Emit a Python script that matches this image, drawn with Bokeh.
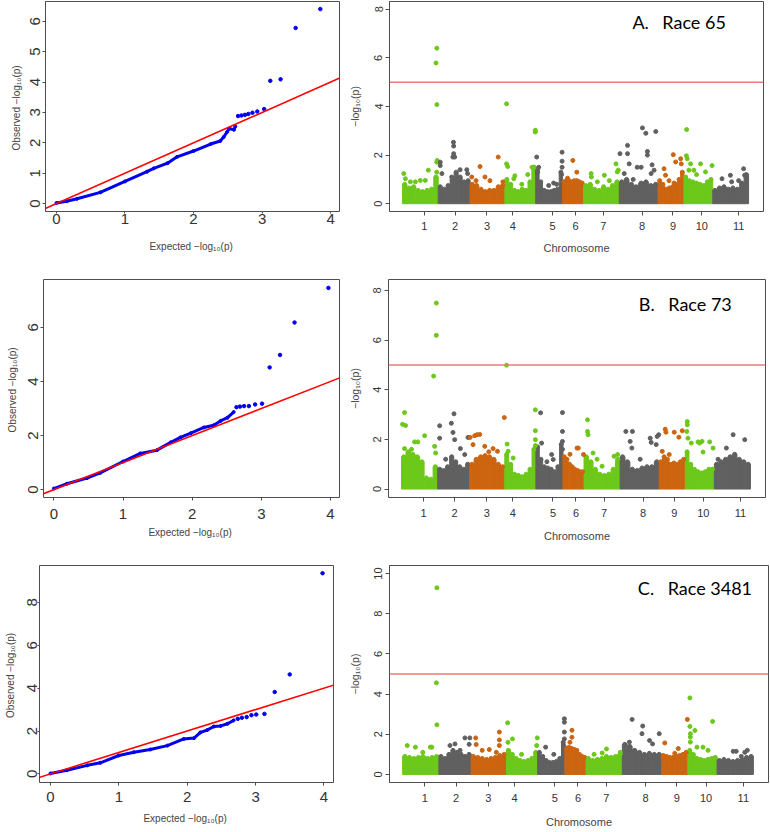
import numpy as np
from bokeh.plotting import figure
from bokeh.layouts import column, row
from bokeh.models import Range1d, FixedTicker, Slope, Span, Label
from bokeh.embed import file_html
from bokeh.resources import INLINE

# ---------------- data ----------------
chrom_names = ["1", "2", "3", "4", "5", "6", "7", "8", "9", "10", "11"]
chrom_len = [36, 32, 35, 31, 27, 21, 36, 39, 26, 29, 36]
chrom_tick = [22, 53, 85, 111, 151, 174, 202, 241, 272, 301, 338]

# QQ plots: dense part (expected, observed) and sparse tail
qa_exp = [0.0, 0.15, 0.3, 0.64, 1.0, 1.32, 1.42, 1.62, 1.76, 2.0, 2.25, 2.39, 2.44, 2.49, 2.52, 2.59, 2.61]
qa_obs = [0.02, 0.08, 0.16, 0.37, 0.73, 1.05, 1.16, 1.33, 1.54, 1.73, 1.96, 2.06, 2.19, 2.36, 2.47, 2.43, 2.54]
qa_exp_tail = [2.65, 2.70, 2.75, 2.80, 2.86, 2.93, 3.03, 3.12, 3.27, 3.49, 3.85]
qa_obs_tail = [2.88, 2.90, 2.92, 2.95, 2.99, 3.03, 3.11, 4.04, 4.09, 5.78, 6.40]

qb_exp = [0.0, 0.19, 0.48, 0.67, 1.0, 1.25, 1.49, 1.69, 1.83, 1.98, 2.17, 2.31, 2.41, 2.51, 2.60]
qb_obs = [0.04, 0.22, 0.43, 0.62, 1.04, 1.34, 1.46, 1.75, 1.93, 2.09, 2.30, 2.38, 2.54, 2.66, 2.87]
qb_exp_tail = [2.64, 2.69, 2.75, 2.82, 2.91, 3.01, 3.12, 3.27, 3.48, 3.97]
qb_obs_tail = [3.05, 3.07, 3.09, 3.09, 3.15, 3.18, 4.52, 4.98, 6.18, 7.46]

qc_exp = [0.0, 0.24, 0.54, 0.73, 1.0, 1.22, 1.46, 1.71, 1.95, 2.1, 2.19, 2.29, 2.39, 2.49, 2.59, 2.68]
qc_obs = [0.02, 0.17, 0.40, 0.52, 0.86, 1.01, 1.14, 1.32, 1.63, 1.67, 1.93, 2.04, 2.21, 2.24, 2.34, 2.50]
qc_exp_tail = [2.74, 2.80, 2.87, 2.94, 3.01, 3.13, 3.28, 3.50, 3.98]
qc_obs_tail = [2.57, 2.62, 2.65, 2.74, 2.77, 2.80, 3.82, 4.64, 9.36]

# Manhattan plots: dense band profile per chromosome (-log10 p of the dense SNP mass)
a_band = [
    [0.8, 0.65, 0.7, 0.55, 0.5, 0.55, 0.6, 1.1],
    [0.7, 0.6, 0.75, 1.0, 1.3, 1.1, 0.9, 0.95],
    [0.8, 0.75, 0.6, 0.5, 0.55, 0.55, 0.7, 0.75],
    [1.0, 0.8, 0.55, 0.5, 0.6, 0.55, 0.9, 1.5],
    [1.4, 0.9, 0.55, 0.5, 0.5, 0.55, 0.6, 1.3],
    [0.9, 0.95, 0.95, 0.9, 0.95, 0.95, 0.9, 0.85],
    [0.75, 0.8, 0.6, 0.55, 0.7, 0.6, 0.75, 0.9],
    [0.9, 1.0, 0.8, 0.7, 0.85, 0.9, 0.75, 0.8],
    [0.95, 0.8, 0.6, 0.65, 0.7, 0.8, 1.0, 1.3],
    [1.1, 0.95, 0.9, 0.85, 0.8, 0.75, 0.9, 1.0],
    [0.55, 0.65, 0.7, 0.6, 0.65, 0.6, 0.85, 1.2],
]
# individual SNPs above the band (cumulative position, -log10 p), per chromosome
a_pos = [
    [1.3, 3, 8, 13, 18, 23, 26, 34.5, 34.5, 35, 33.7, 34.6, 34.6],
    [38, 38, 39.7, 51.3, 51.5, 51.5, 52.5, 58, 64.7, 65.5, 49.5, 50.7],
    [69.7, 78, 83, 96.3, 101, 88, 74],
    [104.7, 104.7, 105.8, 112, 130.3, 132.5, 133.6, 133.6, 120, 126, 113],
    [135, 137, 136, 147, 152, 160.5, 160.5, 160.5, 160, 155],
    [171.3, 175.3, 166],
    [189.7, 190, 196, 203, 214.7, 216, 217, 208],
    [218.7, 226.3, 226.3, 228, 223, 241.3, 244.7, 254.7, 246.3, 246.3, 236, 240, 251, 253, 250, 232],
    [263, 264.5, 272.3, 274.7, 279.7, 280.3, 268, 273],
    [285.7, 285.5, 286.3, 289.7, 288, 293, 299.7, 304.7, 311.3, 295.7],
    [321.3, 329.7, 331, 343, 344, 338],
]
a_val = [
    [1.24, 1.03, 0.9, 0.9, 0.96, 0.96, 1.38, 1.3, 1.71, 1.78, 5.79, 6.40, 4.08],
    [1.71, 1.57, 1.24, 2.53, 2.37, 2.06, 1.92, 1.4, 1.4, 1.24, 1.1, 1.92],
    [1.1, 1.53, 1.1, 1.92, 0.9, 0.95, 0.95],
    [4.11, 1.64, 1.53, 1.03, 1.5, 1.5, 2.95, 3.02, 0.8, 1.2, 1.15],
    [1.92, 1.5, 1.3, 0.75, 0.85, 2.12, 1.75, 1.5, 1.2, 0.8],
    [1.78, 1.3, 1.05],
    [1.24, 1.1, 0.9, 1.17, 1.64, 1.31, 1.38, 0.95],
    [2.06, 2.4, 2.06, 1.64, 1.24, 3.12, 2.9, 2.97, 2.15, 2.0, 1.5, 1.5, 1.6, 1.38, 1.24, 1.0],
    [1.44, 1.17, 2.02, 1.72, 1.85, 1.64, 0.95, 0.85],
    [3.05, 1.97, 1.85, 1.64, 1.38, 1.38, 1.64, 1.31, 1.57, 1.2],
    [1.03, 1.17, 0.9, 1.44, 1.17, 0.95],
]

b_band = [
    [1.3, 1.5, 1.4, 1.3, 1.1, 0.45, 0.4, 0.9],
    [0.8, 0.75, 0.9, 1.3, 1.1, 0.9, 0.8, 1.0],
    [1.0, 1.2, 1.3, 1.35, 1.3, 1.2, 1.0, 0.9],
    [1.4, 1.0, 0.6, 0.55, 0.5, 0.6, 0.8, 1.6],
    [1.7, 1.2, 0.9, 0.85, 0.8, 0.7, 0.9, 1.8],
    [1.3, 1.2, 1.0, 0.9, 0.8, 0.75, 0.7, 0.7],
    [1.3, 1.1, 0.8, 0.6, 0.55, 0.6, 0.8, 1.2],
    [1.3, 1.1, 0.8, 0.75, 0.85, 0.9, 0.9, 1.1],
    [1.1, 1.3, 1.2, 1.0, 1.05, 1.0, 1.1, 1.2],
    [1.5, 1.0, 0.8, 0.7, 0.65, 0.7, 0.8, 0.8],
    [1.0, 1.1, 1.2, 1.3, 1.4, 1.2, 1.1, 1.0],
]
b_pos = [
    [34.7, 34.7, 32, 3, 1, 4, 13, 16.3, 23, 3, 33, 34, 10],
    [38, 38, 49.7, 52.3, 51.3, 53, 58.7, 66.3, 63, 44],
    [68.5, 73, 75.3, 78, 71.3, 83, 91.3, 95.7, 102.5, 87],
    [104.7, 105.3, 106.3, 111.3, 133.5, 133.5, 133.5, 133.5],
    [138.7, 139.7, 149.7, 151.3, 160.5, 160.5, 160.5, 160.5, 145],
    [175, 176.3, 181.5, 168, 164],
    [185.5, 185.5, 186, 191, 212, 215.5, 200, 195],
    [223.7, 230.3, 228, 229.7, 248, 249, 255, 256.5, 254, 238],
    [263, 263.7, 272, 276.6, 280, 260, 267],
    [285, 285, 284.5, 285.7, 295.7, 297.3, 299.7, 289, 307.3, 300.7, 310.7],
    [330.7, 342.3, 324, 315.7],
]
b_val = [
    [7.49, 6.19, 4.55, 3.08, 2.61, 2.56, 1.9, 1.9, 2.15, 1.63, 1.72, 1.45, 1.6],
    [2.55, 2.05, 2.65, 3.03, 2.28, 1.99, 1.63, 2.08, 1.39, 1.2],
    [2.08, 2.15, 2.19, 2.2, 1.79, 1.72, 1.63, 1.52, 2.88, 1.5],
    [4.99, 1.81, 1.52, 1.25, 3.19, 2.35, 1.99, 1.75],
    [3.07, 1.85, 1.39, 1.19, 3.08, 2.32, 1.92, 1.6, 1.1],
    [1.65, 1.65, 1.39, 1.4, 1.2],
    [2.79, 2.32, 2.19, 1.45, 1.32, 1.39, 0.92, 1.2],
    [2.32, 2.32, 1.92, 1.65, 2.05, 1.88, 2.12, 2.19, 1.79, 1.2],
    [2.41, 2.29, 2.29, 2.09, 2.35, 1.52, 1.39],
    [2.72, 2.59, 2.32, 2.05, 1.9, 1.85, 1.92, 1.85, 1.9, 1.49, 1.65],
    [2.19, 1.99, 1.65, 1.2],
]

c_band = [
    [0.9, 0.85, 0.8, 0.85, 0.9, 0.8, 0.85, 0.9],
    [0.9, 0.8, 1.0, 1.2, 1.1, 1.0, 0.9, 1.0],
    [0.9, 0.85, 0.8, 0.75, 0.8, 0.85, 0.95, 1.0],
    [1.2, 1.0, 0.8, 0.7, 0.65, 0.7, 0.8, 1.1],
    [1.1, 0.9, 0.7, 0.6, 0.6, 0.65, 0.8, 1.6],
    [1.3, 1.35, 1.3, 1.25, 1.2, 1.0, 0.9, 0.85],
    [0.8, 0.7, 0.75, 0.8, 0.9, 0.85, 0.9, 1.0],
    [1.5, 1.4, 1.2, 1.1, 1.0, 1.05, 1.0, 1.0],
    [0.95, 0.9, 0.85, 0.85, 0.9, 0.95, 1.0, 1.1],
    [1.2, 1.0, 0.8, 0.75, 0.7, 0.75, 0.8, 0.85],
    [0.7, 0.75, 0.7, 0.65, 0.7, 0.75, 0.85, 0.9],
]
c_pos = [
    [34, 33.5, 34, 4.6, 12.7, 27.5, 29, 20],
    [47, 52, 61.8, 66.7, 57, 66],
    [72.5, 73, 79, 86, 96, 96, 96, 93],
    [104.2, 104.5, 109, 118, 133.6, 133],
    [141.9, 150, 160.5, 160.5, 160.5, 160.5, 159.5],
    [168, 168, 166],
    [202.3, 198, 216, 190],
    [227.7, 238.2, 237.5, 254.6, 245, 248, 225],
    [260.1, 273.5, 282.5, 270],
    [285, 285, 290, 285.5, 285.5, 285.5, 307.5, 292, 298, 303],
    [328, 331, 339.5, 342, 336],
]
c_val = [
    [9.29, 4.56, 2.47, 1.44, 1.36, 1.36, 1.36, 1.1],
    [1.44, 1.52, 1.82, 1.82, 1.2, 1.5],
    [1.82, 1.49, 1.2, 1.24, 2.11, 1.72, 1.44, 1.1],
    [2.57, 1.6, 1.77, 1.0, 1.82, 1.44],
    [1.36, 1.0, 2.77, 2.6, 2.11, 1.77, 1.45],
    [2.2, 1.85, 1.6],
    [1.27, 1.07, 1.1, 1.0],
    [2.74, 2.41, 2.03, 2.03, 1.69, 1.52, 1.61],
    [1.57, 1.29, 2.74, 1.05],
    [3.81, 2.39, 2.19, 2.03, 1.86, 1.61, 2.64, 1.36, 1.36, 1.2],
    [1.15, 1.15, 1.1, 1.2, 0.9],
]

threshold = 5
race_labels = ["A.\u2003Race 65", "B.\u2003Race 73", "C.\u2003Race 3481"]

# ---------------- style ----------------
FRAME = "#4d4d4d"
TXT = "#333333"
NARROW = "Liberation Sans Narrow, Arial Narrow, Liberation Sans"
REG = "Liberation Sans"
CHR_COLORS = ["#6cc81a", "#606060", "#cc6410"]
BLUE = "#0000ee"


def base_fig(w, h, xr, yr, bl, br, bt, bb):
    p = figure(width=w, height=h, x_range=Range1d(*xr), y_range=Range1d(*yr),
               output_backend="svg", toolbar_location=None,
               min_border_left=bl, min_border_right=br,
               min_border_top=bt, min_border_bottom=bb)
    p.xgrid.visible = False
    p.ygrid.visible = False
    p.outline_line_color = FRAME
    p.outline_line_width = 1
    p.outline_line_alpha = 1
    p.background_fill_color = "white"
    p.border_fill_color = "white"
    for ax in (p.xaxis[0], p.yaxis[0]):
        ax.axis_line_color = None
        ax.major_tick_line_color = FRAME
        ax.minor_tick_line_color = None
        ax.major_tick_in = 0
        ax.major_label_text_color = TXT
        ax.axis_label_text_color = "#444444"
        ax.axis_label_text_font_style = "normal"
    return p


def set_x(ax, ticks, font, size, tick_out, standoff, label, lsize, lstand):
    ax.ticker = FixedTicker(ticks=ticks, minor_ticks=[])
    ax.major_label_text_font = font
    ax.major_label_text_font_size = size
    ax.major_tick_out = tick_out
    ax.major_label_standoff = standoff
    ax.axis_label = label
    ax.axis_label_text_font = font
    ax.axis_label_text_font_size = lsize
    ax.axis_label_standoff = lstand


def set_y(ax, ticks, size, tick_out, standoff, label, lsize, lstand):
    ax.ticker = FixedTicker(ticks=ticks, minor_ticks=[])
    ax.major_label_text_font = REG
    ax.major_label_text_font_size = size
    ax.major_label_orientation = "vertical"
    ax.major_tick_out = tick_out
    ax.major_label_standoff = standoff
    ax.axis_label = label
    ax.axis_label_text_font = REG
    ax.axis_label_text_font_size = lsize
    ax.axis_label_standoff = lstand


def qq_fig(exp, obs, exp_t, obs_t, w, h, xr, yr, borders, yticks, xaxis_cfg, yaxis_cfg):
    p = base_fig(w, h, xr, yr, *borders)
    p.line(exp, obs, line_color=BLUE, line_width=3)
    p.scatter(exp, obs, size=3, color=BLUE)
    p.scatter(exp_t, obs_t, size=3.5, color=BLUE)
    p.add_layout(Slope(gradient=1, y_intercept=0, line_color="#ff0000", line_width=1.6))
    set_x(p.xaxis[0], [0, 1, 2, 3, 4], NARROW, "15px", *xaxis_cfg[:2],
          "Expected  \u2212log\u2081\u2080(p)", "10px", xaxis_cfg[2])
    set_y(p.yaxis[0], yticks, "15px", *yaxis_cfg[:2],
          "Observed  \u2212log\u2081\u2080(p)", "10px", yaxis_cfg[2])
    return p


def man_fig(bands, pos, val, w, h, yr, borders, yticks, xaxis_cfg, yaxis_cfg, label, lab_xy):
    p = base_fig(w, h, (-13, 363), yr, *borders)
    starts = np.cumsum([0] + chrom_len[:-1])
    bx, bw, bt, bc = [], [], [], []
    for c, (s, L, hs) in enumerate(zip(starts, chrom_len, bands)):
        n = len(hs)
        for i, hgt in enumerate(hs):
            bx.append(s + (i + 0.5) * L / n)
            bw.append(L / n)
            bt.append(hgt)
            bc.append(CHR_COLORS[c % 3])
    p.vbar(x=bx, width=bw, top=bt, bottom=0, color=bc)
    p.scatter(bx, bt, size=4, color=bc)
    px, py, pc = [], [], []
    for c in range(len(chrom_len)):
        px += pos[c]
        py += val[c]
        pc += [CHR_COLORS[c % 3]] * len(pos[c])
    p.scatter(px, py, size=4, color=pc)
    p.add_layout(Span(location=threshold, dimension="width", line_color="#f07878", line_width=1.5))
    set_x(p.xaxis[0], chrom_tick, NARROW, "11px", *xaxis_cfg[:2], "Chromosome", "11px", xaxis_cfg[2])
    p.xaxis[0].major_label_overrides = {t: n for t, n in zip(chrom_tick, chrom_names)}
    set_y(p.yaxis[0], yticks, "11px", *yaxis_cfg[:2], "\u2212log\u2081\u2080(p)", "10.5px", yaxis_cfg[2])
    p.add_layout(Label(x=lab_xy[0], y=lab_xy[1], text=label, text_font="Lato",
                       text_font_size="18px", text_color="black",
                       text_baseline="middle", text_align="left"))
    return p


QW, MW = 345, 425

qa = qq_fig(qa_exp, qa_obs, qa_exp_tail, qa_obs_tail, QW, 270, (-0.16, 4.13), (-0.26, 6.65),
            (45, 6, 1, 58), [0, 1, 2, 3, 4, 5, 6], (2, 0, 14), (3, 2, 6))
qb = qq_fig(qb_exp, qb_obs, qb_exp_tail, qb_obs_tail, QW, 274, (-0.15, 4.13), (-0.29, 7.77),
            (43, 6, 9, 45), [0, 2, 4, 6], (3, 8, 5), (3, 2, 8))
qc = qq_fig(qc_exp, qc_obs, qc_exp_tail, qc_obs_tail, QW, 288, (-0.16, 4.14), (-0.4, 9.72),
            (39, 12, 21, 45), [0, 2, 4, 6, 8], (3, 6, 8), (2, 0, 9))

ma = man_fig(a_band, a_pos, a_val, MW, 270, (-0.32, 8.32), (44, 7, 1, 59), [0, 2, 4, 6, 8],
             (4, 6, 9), (4, 3, 11), race_labels[0], (231.2, 7.46))
mb = man_fig(b_band, b_pos, b_val, MW, 274, (-0.34, 8.44), (42, 5, 7, 47), [0, 2, 4, 6, 8],
             (4, 7, 10), (4, 3, 10), race_labels[1], (236.7, 7.44))
mc = man_fig(c_band, c_pos, c_val, MW, 288, (-0.4, 10.4), (43, 2, 21, 50), [0, 2, 4, 6, 8, 10],
             (4, 7, 11), (4, 3, 11), race_labels[2], (233.4, 9.3))

layout = column(row(qa, ma), row(qb, mb), row(qc, mc))
open("out.html", "w").write(file_html(layout, INLINE))
